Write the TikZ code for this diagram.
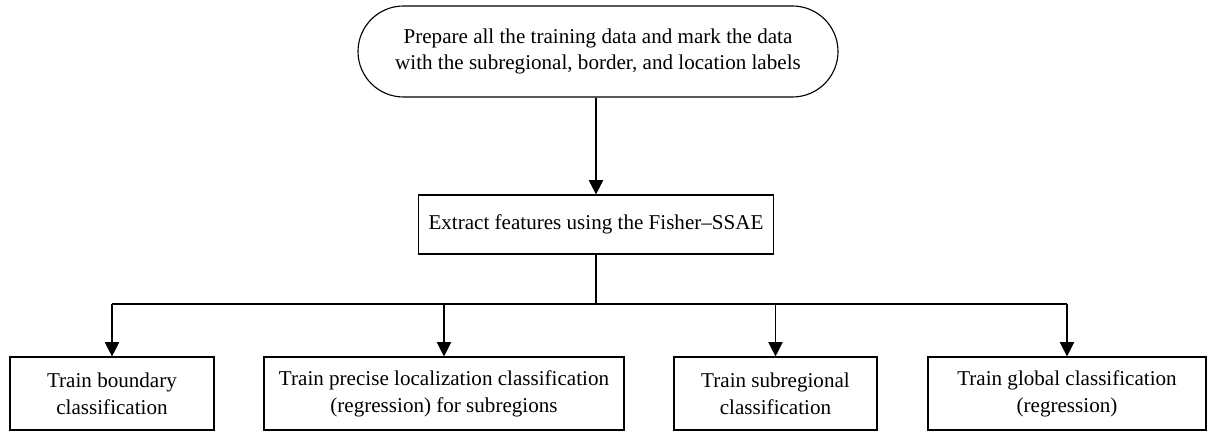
\documentclass[tikz,border=0pt]{standalone}
\usepackage{fontspec}
\setmainfont{Liberation Serif}
\usetikzlibrary{positioning,arrows.meta,shapes.misc}

\begin{document}
\begin{tikzpicture}[
      every node/.style={align=center, font=\fontsize{15}{19}\selectfont},
      box/.style={draw, line width=0.8pt, minimum width=#1, inner sep=0pt},
      startbox/.style={rounded rectangle, draw, line width=0.8pt,
                minimum width=12cm, minimum height=2.275cm, inner sep=0pt},
      featbox/.style={box=8.875cm, minimum height=1.475cm},
      trainbox/.style={box=#1, minimum height=1.825cm},
      arr/.style={-{Triangle[width=0.36cm, length=0.36cm]}, line width=0.8pt}]
    \useasboundingbox (0,0) rectangle (30.2,10.8);
    \node[startbox] (prep) at (14.95,9.5125) {Prepare all the training data and mark the data\\with the subregional, border, and location labels};
    \node[featbox]  (feat) at (14.9,5.1875)  {Extract features using the Fisher--SSAE};
    \node[trainbox=5.1cm]   (bnd)  at (2.8,0.9625)    {Train boundary\\classification};
    \node[trainbox=9cm]     (loc)  at (11.1,0.9625)   {Train precise localization classification\\(regression) for subregions};
    \node[trainbox=5.075cm] (sub)  at (19.3875,0.9625) {Train subregional\\classification};
    \node[trainbox=6.95cm]  (glob) at (26.675,0.9625) {Train global classification\\(regression)};
    \coordinate (bus) at (14.9,3.2);
    \draw[arr] (prep.south -| feat) -- (feat);
    \draw[line width=0.8pt] (feat) -- (bus);
    \draw[line width=0.8pt] (bus -| bnd) -- (bus -| glob);
    \foreach \n in {bnd,loc,sub,glob}
      \draw[arr] (bus -| \n) -- (\n);
  \end{tikzpicture}
\end{document}
